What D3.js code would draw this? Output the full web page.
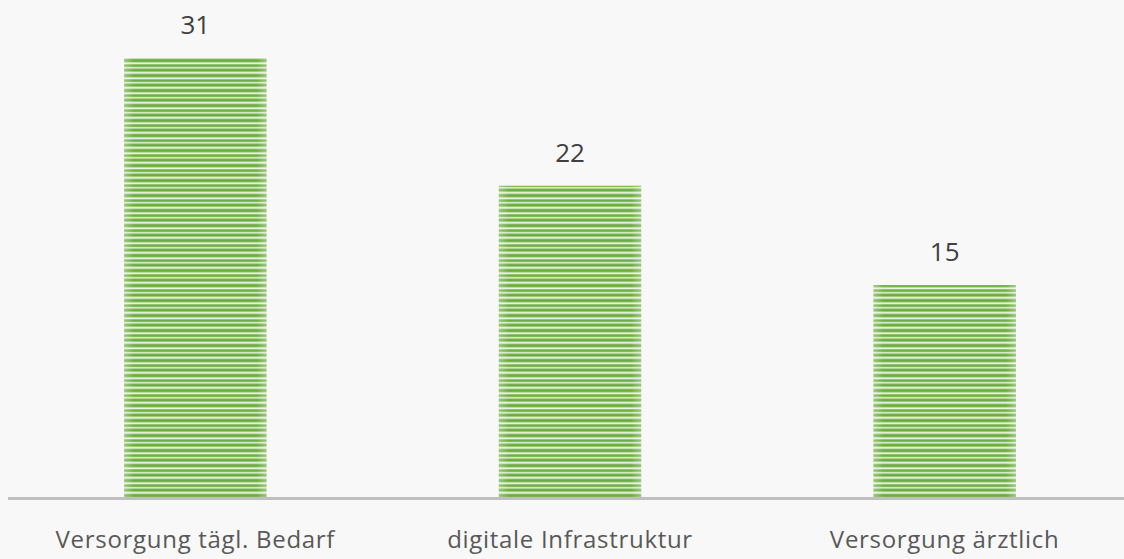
<!DOCTYPE html>
<html>
<head>
<meta charset="utf-8">
<script src="https://cdn.jsdelivr.net/npm/d3@7"></script>
<style>
  html, body { margin: 0; padding: 0; background: #f8f8f8; }
  svg { display: block; }
</style>
</head>
<body>
<div id="chart"></div>
<script>
var categories = ["Versorgung tägl. Bedarf", "digitale Infrastruktur", "Versorgung ärztlich"];
var values = [31, 22, 15];

var width = 1124, height = 559;
var baseline = 498;

var svg = d3.select("#chart").append("svg")
    .attr("width", width)
    .attr("height", height);

// striped fill like the original
var defs = svg.append("defs");
var rows = ["#6ea944", "#7ab451", "#bcdca6", "#e4f1db", "#92c571",
            "#70ac46", "#84bb5e", "#d2e8c4", "#acd492", "#74af4b",
            "#6da943", "#9acb7b", "#deefd3", "#c4e0b0", "#7eb756"];
var pat = defs.append("pattern")
    .attr("id", "stripes")
    .attr("patternUnits", "userSpaceOnUse")
    .attr("width", 10)
    .attr("height", rows.length);
rows.forEach(function(c, i){
  pat.append("rect").attr("x", 0).attr("y", i).attr("width", 10).attr("height", 1).attr("fill", c);
});

var grad = defs.append("linearGradient").attr("id", "edge").attr("x1", 0).attr("x2", 1);
grad.append("stop").attr("offset", "0").attr("stop-color", "#fff").attr("stop-opacity", 0.3);
grad.append("stop").attr("offset", "0.07").attr("stop-color", "#fff").attr("stop-opacity", 0);
grad.append("stop").attr("offset", "0.93").attr("stop-color", "#fff").attr("stop-opacity", 0);
grad.append("stop").attr("offset", "1").attr("stop-color", "#fff").attr("stop-opacity", 0.3);

var x = d3.scaleBand()
    .domain(categories)
    .range([8, 1132])
    .paddingInner(0.62)
    .paddingOuter(0.31);

var y = d3.scaleLinear()
    .domain([0, 31])
    .range([baseline, 58]);

var bars = svg.append("g");

bars.selectAll("rect.bar")
    .data(values)
  .enter().append("rect")
    .attr("class", "bar")
    .attr("x", function(d, i){ return x(categories[i]); })
    .attr("y", function(d){ return y(d); })
    .attr("width", x.bandwidth())
    .attr("height", function(d){ return baseline - y(d); })
    .attr("fill", "url(#stripes)");

bars.selectAll("rect.edge")
    .data(values)
  .enter().append("rect")
    .attr("class", "edge")
    .attr("x", function(d, i){ return x(categories[i]); })
    .attr("y", function(d){ return y(d); })
    .attr("width", x.bandwidth())
    .attr("height", function(d){ return baseline - y(d); })
    .attr("fill", "url(#edge)");

// value labels
svg.append("g").selectAll("text")
    .data(values)
  .enter().append("text")
    .attr("x", function(d, i){ return x(categories[i]) + x.bandwidth() / 2; })
    .attr("y", function(d){ return y(d) - 24; })
    .attr("text-anchor", "middle")
    .attr("font-family", "'Open Sans', sans-serif")
    .attr("font-size", 26)
    .attr("fill", "#404040")
    .text(function(d){ return d; });

// axis line
svg.append("line")
    .attr("x1", 8).attr("x2", width)
    .attr("y1", baseline + 0.5).attr("y2", baseline + 0.5)
    .attr("stroke", "#bfbfbf")
    .attr("stroke-width", 3);

// category labels
var xAxis = d3.axisBottom(x).tickSize(0).tickPadding(0);
var ax = svg.append("g")
    .attr("transform", "translate(0," + (baseline + 50) + ")")
    .call(xAxis);
ax.select(".domain").remove();
ax.selectAll("text")
    .attr("font-family", "'Open Sans', sans-serif")
    .attr("font-size", 24)
    .attr("letter-spacing", 0.7)
    .attr("fill", "#595959")
    .attr("dy", 0);
</script>
</body>
</html>
